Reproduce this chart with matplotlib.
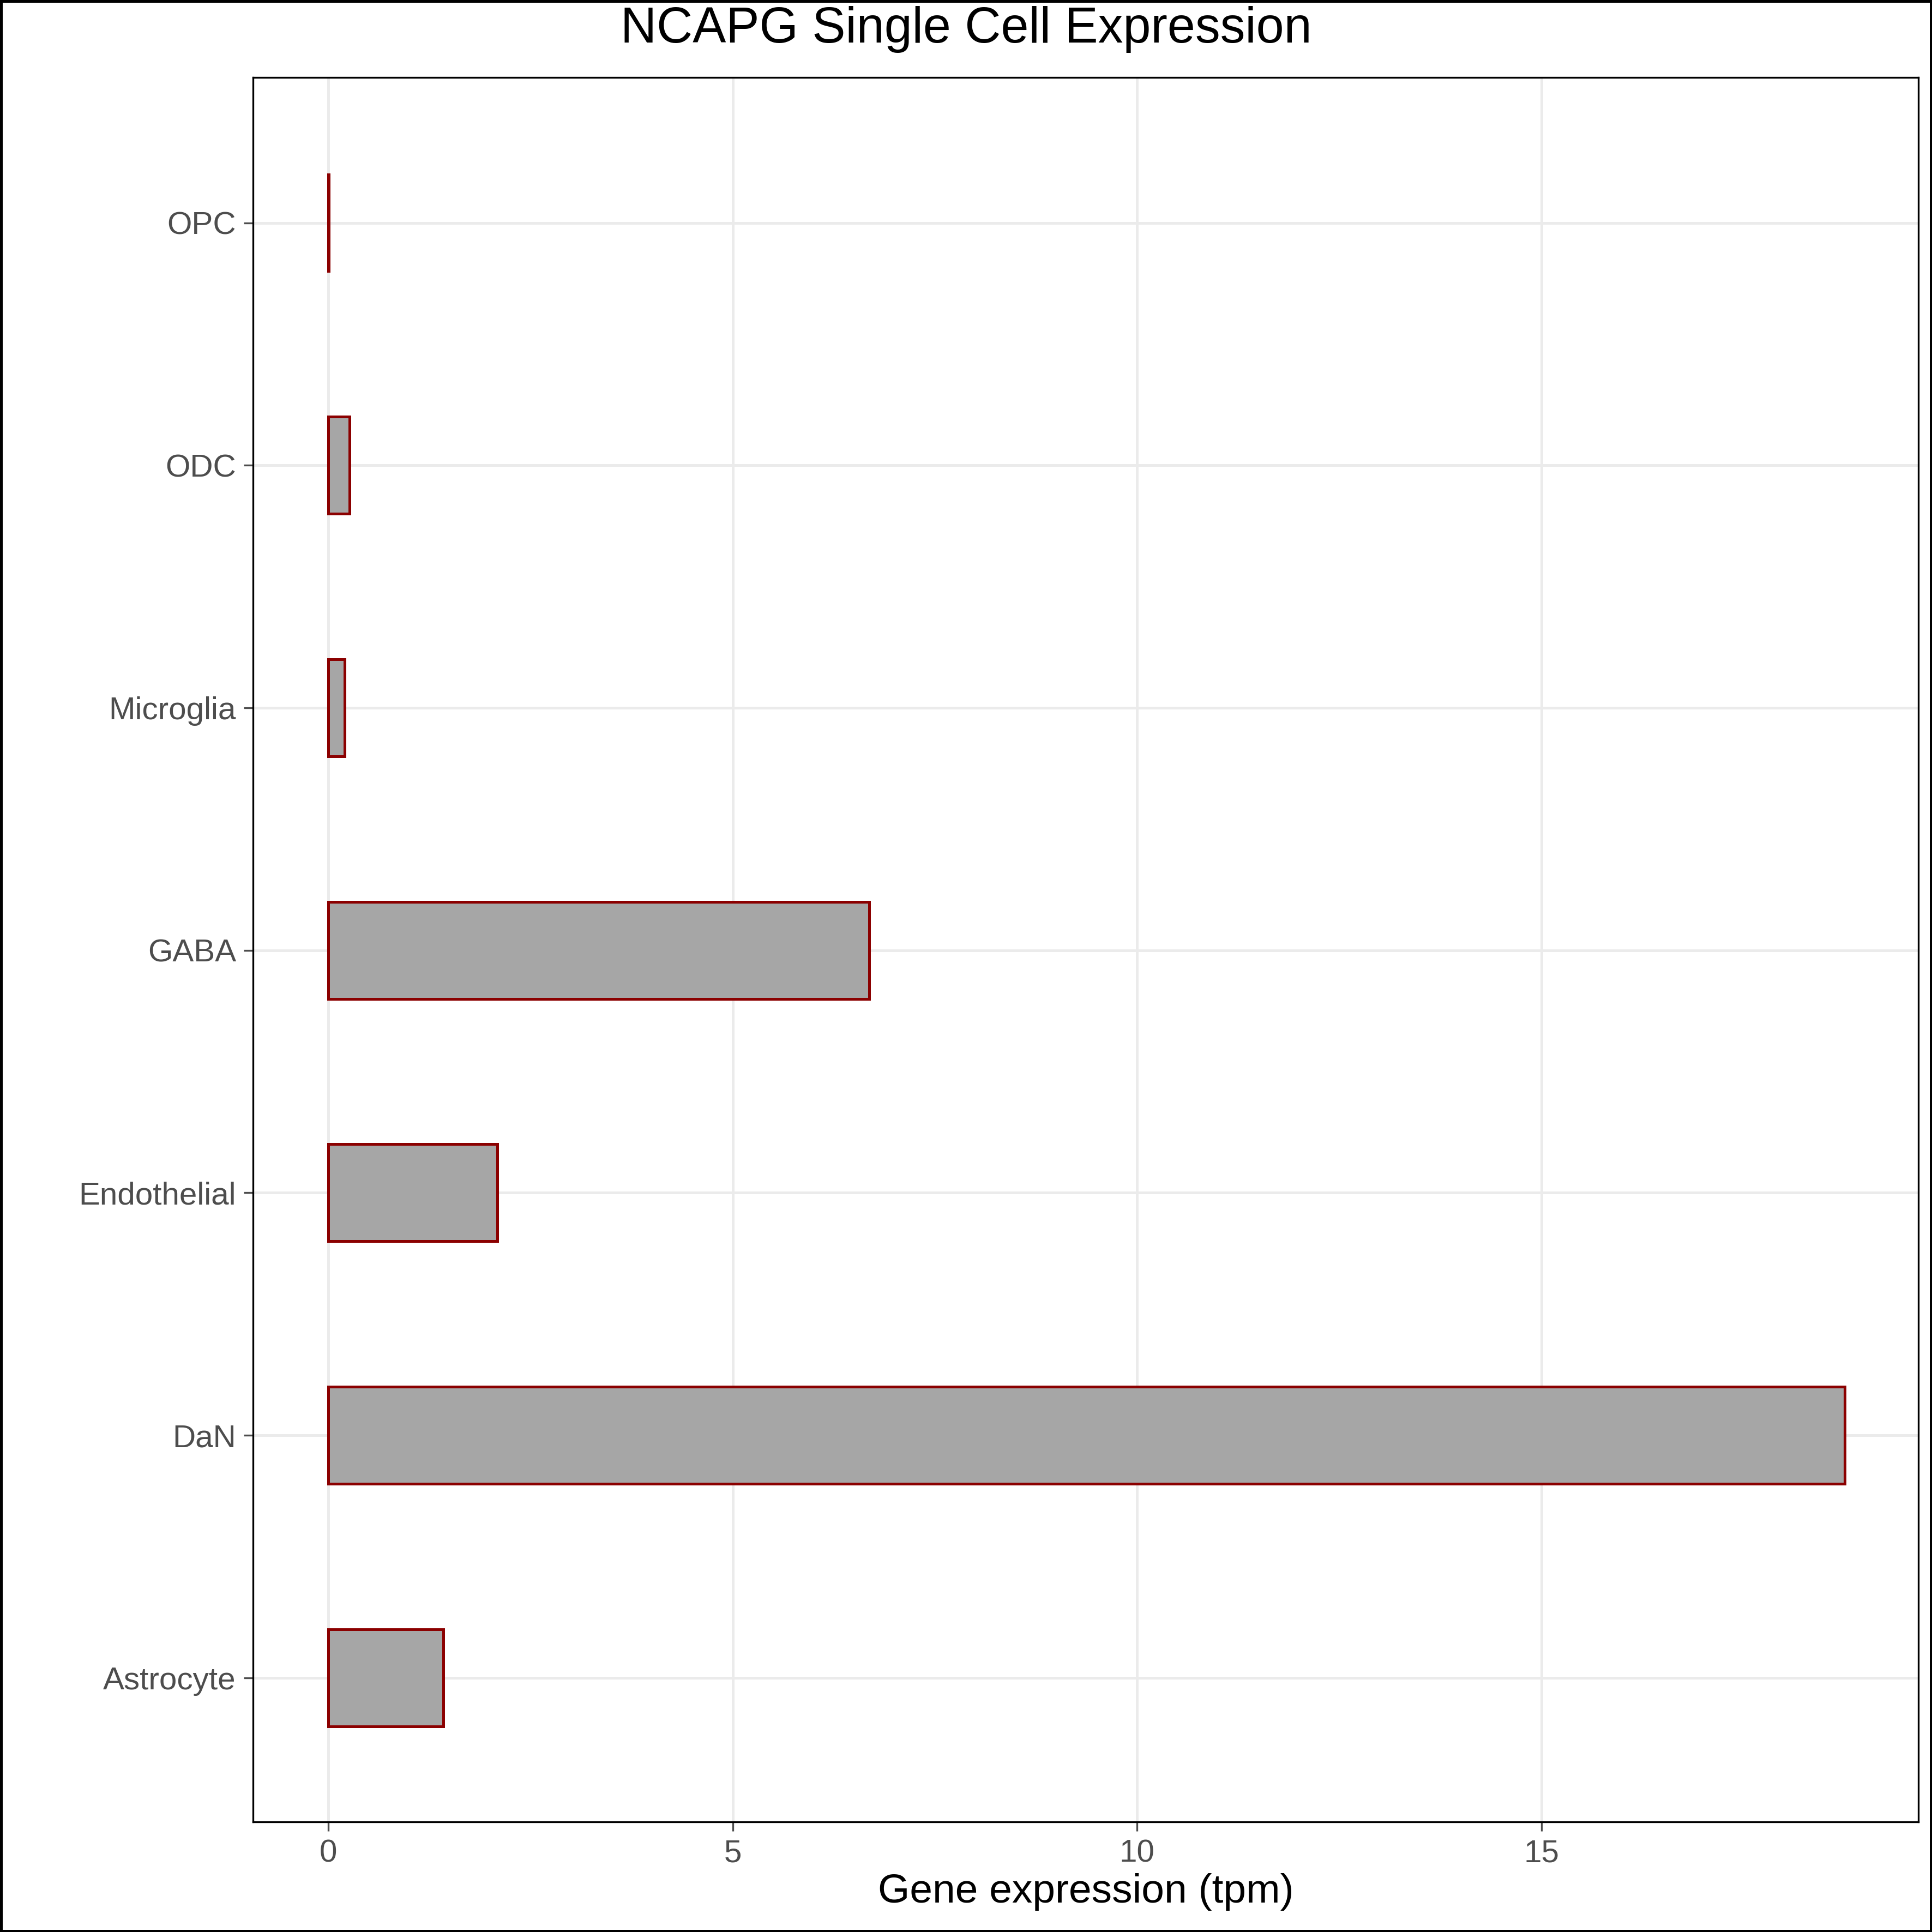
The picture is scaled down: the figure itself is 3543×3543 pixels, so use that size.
import matplotlib
matplotlib.use("Agg")
import matplotlib.pyplot as plt

cell_types = ["Astrocyte", "DaN", "Endothelial", "GABA", "Microglia", "ODC", "OPC"]
expression = [1.42, 18.75, 2.09, 6.69, 0.20, 0.26, 0.005]

plt.rcParams["font.family"] = ["Liberation Sans", "DejaVu Sans"]

fig = plt.figure(figsize=(11.81, 11.81), dpi=300)
ax = fig.add_axes([0.131, 0.057, 0.862, 0.903])

ax.barh(range(len(cell_types)), expression, height=0.4,
        color="#a6a6a6", edgecolor="#8b0000", linewidth=1.2, zorder=3)

ax.set_xlim(-0.93, 19.66)
ax.set_ylim(-0.594, 6.6)
ax.set_xticks([0, 5, 10, 15])
ax.set_yticks(range(len(cell_types)))
ax.set_yticklabels(cell_types)
ax.grid(True, color="#ebebeb", linewidth=1.2, zorder=0)
ax.tick_params(labelsize=14, colors="#4d4d4d", length=4, width=0.8)
for s in ax.spines.values():
    s.set_linewidth(0.8)
    s.set_color("black")

ax.set_xlabel("Gene expression (tpm)", fontsize=18, labelpad=2)
fig.suptitle("NCAPG Single Cell Expression", fontsize=22, y=0.997)

fig.patches.append(plt.Rectangle((0.0005, 0.0005), 0.999, 0.999, transform=fig.transFigure,
                                 fill=False, edgecolor="black", linewidth=1.2))

fig.savefig("out.png", dpi=300)
